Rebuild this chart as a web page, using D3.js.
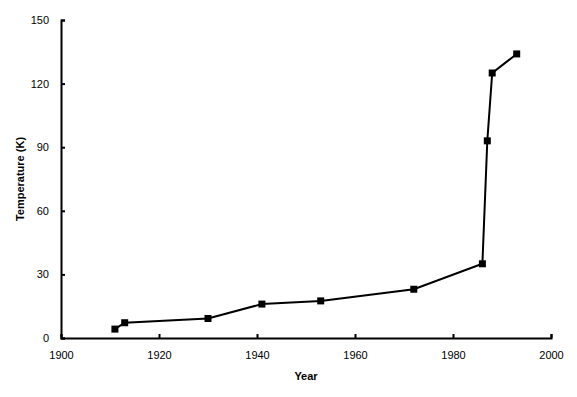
<!DOCTYPE html>
<html>
<head>
<meta charset="utf-8">
<script src="https://cdn.jsdelivr.net/npm/d3@7"></script>
<style>
  body { margin: 0; background: #fff; }
  svg { display: block; font-family: Arial, "Liberation Sans", sans-serif; }
  .tick text { font-size: 11px; fill: #000; }
  .axis-title { font-size: 11px; font-weight: bold; fill: #000; }
</style>
</head>
<body>
<div id="chart"></div>
<script>
// discovery years and critical temperatures
const years = [1911, 1913, 1930, 1941, 1953, 1972, 1986, 1987, 1988, 1993]
const temps = [4.2, 7.2, 9.2, 16, 17.5, 23, 35, 93, 125, 134]
const xTicks = [1900, 1920, 1940, 1960, 1980, 2000]
const yTicks = [0, 30, 60, 90, 120, 150]

const width = 577, height = 397
const margin = {top: 20, right: 26, bottom: 59, left: 61}

const svg = d3.select('#chart').append('svg')
  .attr('width', width)
  .attr('height', height)

const x = d3.scaleLinear().domain([1900, 2000]).range([margin.left, width - margin.right])
const y = d3.scaleLinear().domain([0, 150]).range([height - margin.bottom, margin.top])

const data = years.map((d, i) => ({year: d, temp: temps[i]}))

// axes, ticks point inward
const xAxis = svg.append('g')
  .attr('transform', 'translate(0,' + y(0) + ')')
  .call(d3.axisBottom(x).tickValues(xTicks).tickFormat(d3.format('d')).tickSizeInner(-4).tickSizeOuter(-4).tickPadding(13))
xAxis.select('.domain').attr('stroke-width', 2)
xAxis.selectAll('.tick line').attr('stroke-width', 2)

const yAxis = svg.append('g')
  .attr('transform', 'translate(' + x(1900) + ',0)')
  .call(d3.axisLeft(y).tickValues(yTicks).tickSizeInner(-4).tickSizeOuter(-4).tickPadding(12))
yAxis.select('.domain').attr('stroke-width', 2)
yAxis.selectAll('.tick line').attr('stroke-width', 2)

const line = d3.line().x(d => x(d.year)).y(d => y(d.temp))

svg.append('path')
  .datum(data)
  .attr('d', line)
  .attr('fill', 'none')
  .attr('stroke', '#000')
  .attr('stroke-width', 2)

svg.append('g').selectAll('rect')
  .data(data)
  .enter()
  .append('rect')
  .attr('x', d => x(d.year) - 3.5)
  .attr('y', d => y(d.temp) - 3.5)
  .attr('width', 7)
  .attr('height', 7)
  .attr('fill', '#000')

svg.append('text')
  .attr('class', 'axis-title')
  .attr('x', (x(1900) + x(2000)) / 2)
  .attr('y', 380)
  .attr('text-anchor', 'middle')
  .text('Year')

svg.append('text')
  .attr('class', 'axis-title')
  .attr('transform', 'translate(24,' + ((y(0) + y(150)) / 2) + ') rotate(-90)')
  .attr('text-anchor', 'middle')
  .text('Temperature (K)')
</script>
</body>
</html>
